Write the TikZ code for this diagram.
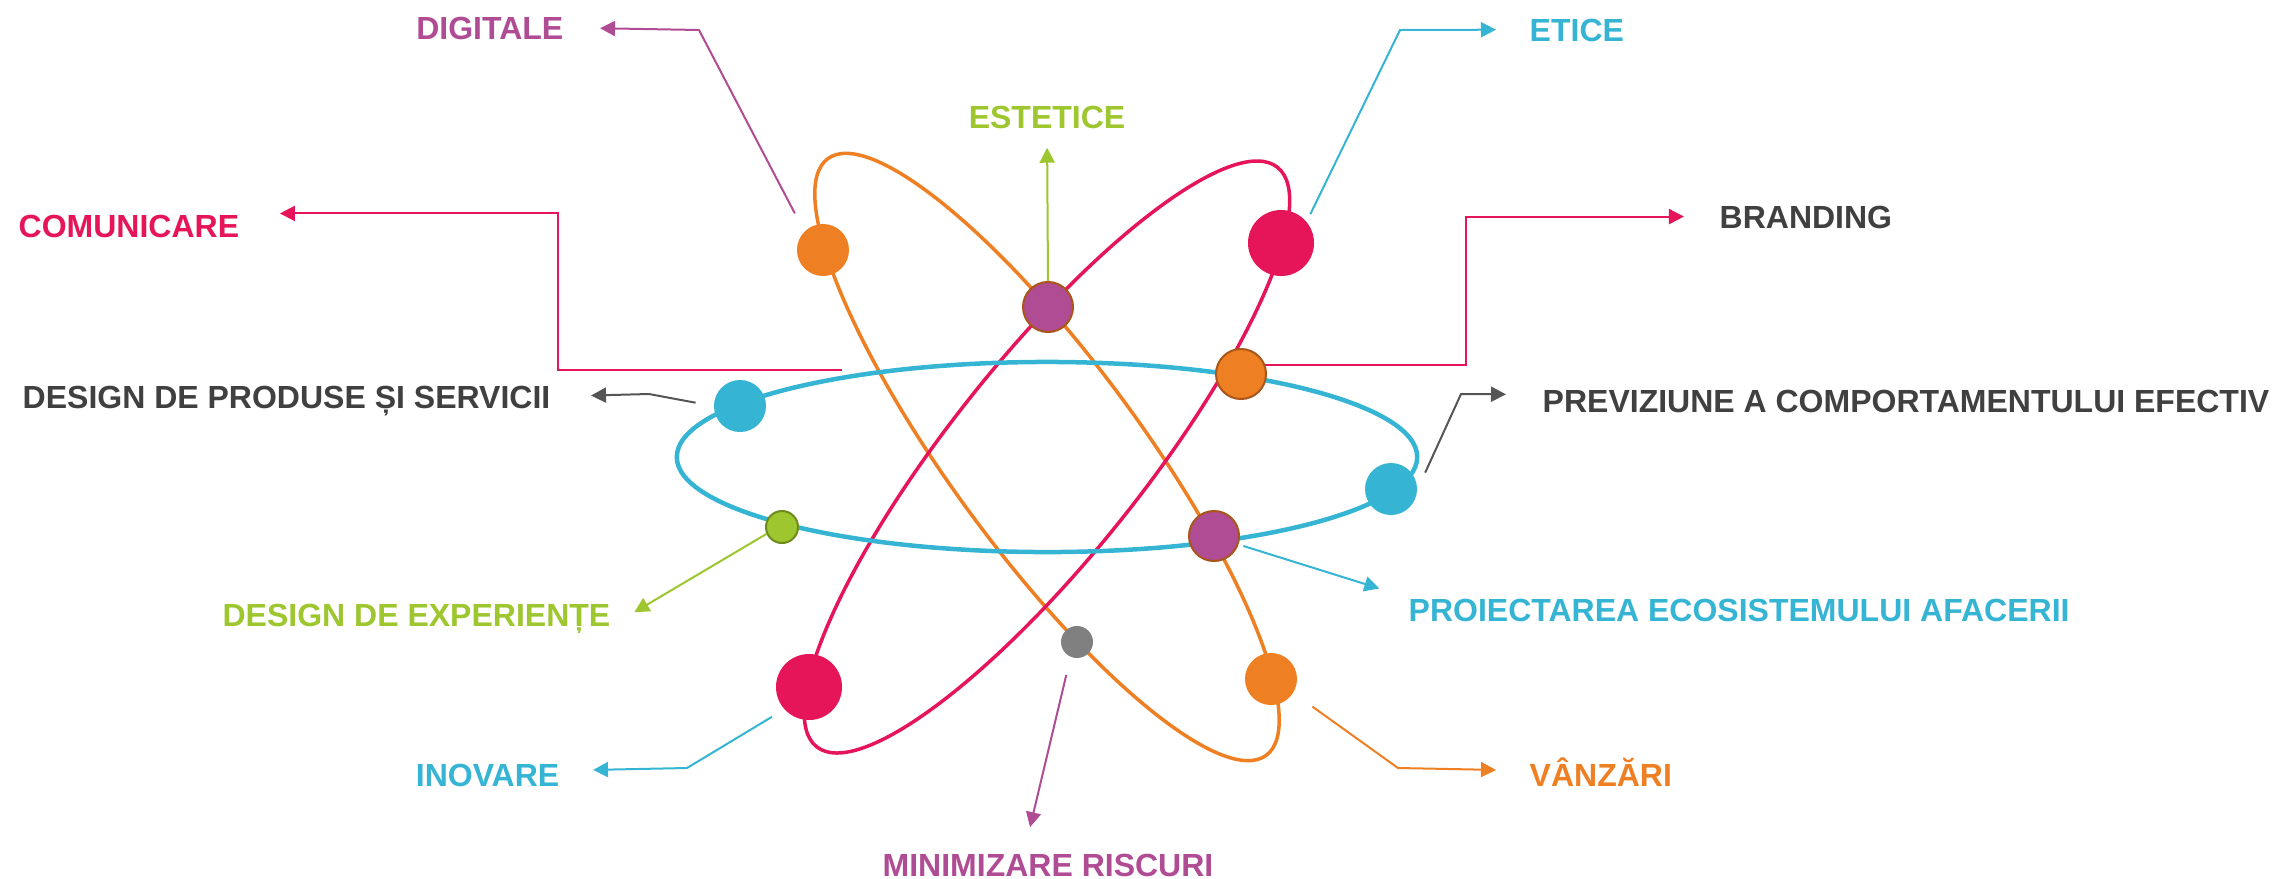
\documentclass[tikz,border=0pt]{standalone}
\usepackage{fontspec}
\setmainfont{Liberation Sans}
\usetikzlibrary{arrows.meta}

\definecolor{atomorange}{HTML}{EE7F22}
\definecolor{atomred}{HTML}{E6155A}
\definecolor{atomblue}{HTML}{35B4D3}
\definecolor{atompurple}{HTML}{B04C94}
\definecolor{atomgreen}{HTML}{9DC62F}
\definecolor{greenring}{HTML}{6E8B1E}
\definecolor{ringbrown}{HTML}{A9561A}
\definecolor{dotgray}{HTML}{808080}
\definecolor{textgray}{HTML}{404040}
\definecolor{linegray}{HTML}{555555}

\begin{document}
\begin{tikzpicture}[x=0.01cm, y=-0.01cm, >={Triangle[length=0.15cm,width=0.15cm]},
	dot/.style={circle, inner sep=0pt, minimum size=0.52cm},
	big dot/.style={dot, minimum size=0.66cm},
	small dot/.style={dot, minimum size=0.32cm},
	ring/.style={draw=ringbrown, line width=0.02cm, minimum size=0.50cm},
	lbl/.style={inner sep=0pt, text height=6.5pt, text depth=0pt, font=\fontsize{9.1}{11}\selectfont\bfseries},
	conn/.style={->, line width=0.02cm}]
	\useasboundingbox (0,0) rectangle (2272,878);

	% Orbits {orange, red, blue}
	\draw [atomorange, line width=0.035cm, rotate around={-53.7:(1047,457)}] (1047,457) ellipse [x radius=3.7cm, y radius=0.95cm];
	\draw [atomred, line width=0.035cm, rotate around={51.5:(1047,457)}] (1047,457) ellipse [x radius=3.7cm, y radius=0.97cm];
	\draw [atomblue, line width=0.045cm] (1047,457) ellipse [x radius=3.7cm, y radius=0.95cm];

	% Dots
	\node [dot, fill=atomorange] 			(o1) at (823,250)  {};
	\node [dot, fill=atompurple, ring] 		(p1) at (1048,307) {};
	\node [big dot, fill=atomred] 			(m1) at (1281,243) {};
	\node [dot, fill=atomorange, ring] 		(o2) at (1241,374) {};
	\node [dot, fill=atomblue] 				(b1) at (740,406)  {};
	\node [dot, fill=atomblue] 				(b2) at (1391,489) {};
	\node [small dot, fill=atomgreen, draw=greenring, line width=0.02cm] (g1) at (782,527) {};
	\node [dot, fill=atompurple, ring] 		(p2) at (1214,536) {};
	\node [small dot, fill=dotgray] 		(gr) at (1077,642) {};
	\node [big dot, fill=atomred] 			(m2) at (809,687)  {};
	\node [dot, fill=atomorange] 			(o3) at (1271,679) {};
	\coordinate (comstart) at (842,370);

	% Labels
	\node [lbl, atompurple, anchor=base east] 	(digitale)    at (564,39)   {DIGITALE};
	\node [lbl, atomgreen, anchor=base] 		(estetice)    at (1047,128) {ESTETICE};
	\node [lbl, atomblue, anchor=base west] 	(etice)       at (1529,41)  {ETICE};
	\node [lbl, atomred, anchor=base west] 		(comunicare)  at (18,237)   {COMUNICARE};
	\node [lbl, textgray, anchor=base west] 	(branding)    at (1719,228) {BRANDING};
	\node [lbl, textgray, anchor=base east] 	(produse)     at (551,408)  {DESIGN DE PRODUSE ȘI SERVICII};
	\node [lbl, textgray, anchor=base west] 	(previziune)  at (1542,412) {PREVIZIUNE A COMPORTAMENTULUI EFECTIV};
	\node [lbl, atomgreen, anchor=base east] 	(experiente)  at (611,626)  {DESIGN DE EXPERIENȚE};
	\node [lbl, atomblue, anchor=base west] 	(proiectarea) at (1408,621) {PROIECTAREA ECOSISTEMULUI AFACERII};
	\node [lbl, atomblue, anchor=base east] 	(inovare)     at (560,786)  {INOVARE};
	\node [lbl, atomorange, anchor=base west] 	(vanzari)     at (1529,786) {VÂNZĂRI};
	\node [lbl, atompurple, anchor=base] 		(minimizare)  at (1048,876) {MINIMIZARE RISCURI};

	% Paths
	\draw [conn, atompurple, shorten <=0.2cm, shorten >=0.36cm] (o1.north west) -- (699,30) -- (digitale.east);
	\draw [conn, atomgreen, shorten >=0.19cm] (p1.north) -- (estetice.south);
	\draw [conn, atomblue, shorten <=0.08cm, shorten >=0.33cm] (m1.40) -- (1400,30) -- (etice.west);
	\draw [conn, atomred, shorten >=0.4cm] (comstart) -| (558,300) |- (comunicare.north east);
	\draw [conn, atomred, shorten >=0.35cm] (o2.20) -| (1466,300) |- (branding.west);
	\draw [conn, linegray, shorten <=0.18cm, shorten >=0.4cm] (b1.west) -- (649,394) -- (produse.east);
	\draw [conn, linegray, shorten <=0.18cm, shorten >=0.36cm] (b2.east) -- (1461,394) -- ([yshift=0.06cm]previziune.west);
	\draw [conn, atomgreen, shorten >=0.27cm] (g1.204) -- (experiente.base east);
	\draw [conn, atomblue, shorten <=0.05cm, shorten >=0.3cm] (p2.-19) -- (proiectarea.north west);
	\draw [conn, atomblue, shorten <=0.14cm, shorten >=0.33cm] (m2.222) -- (687,768) -- ([yshift=0.04cm]inovare.east);
	\draw [conn, atompurple, shorten <=0.18cm, shorten >=0.26cm] (gr.247) -- ([xshift=-0.24cm]minimizare.north);
	\draw [conn, atomorange, shorten <=0.23cm, shorten >=0.33cm] (o3.-32) -- (1398,768) -- ([yshift=0.04cm]vanzari.west);

\end{tikzpicture}
\end{document}
